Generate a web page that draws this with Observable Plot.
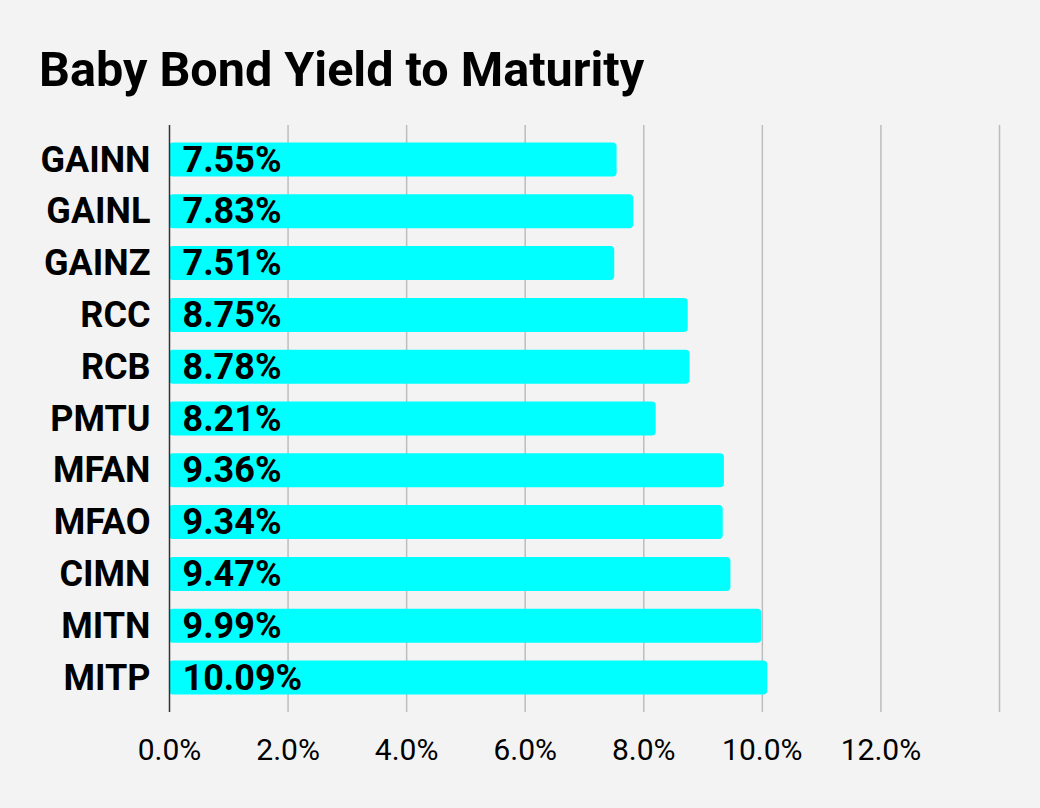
<!DOCTYPE html>
<html><head><meta charset="utf-8">
<script src="https://cdn.jsdelivr.net/npm/d3@7"></script>
<script src="https://cdn.jsdelivr.net/npm/@observablehq/plot@0.6"></script>
<style>
html,body{margin:0;padding:0;background:#f3f3f3;}
body{width:1040px;height:808px;overflow:hidden;font-family:Roboto,sans-serif;}
#title{height:110px;box-sizing:border-box;padding:42px 0 0 39px;font-size:48.5px;font-weight:700;line-height:56px;color:#000;white-space:nowrap;}
#chart svg{display:block;}
</style></head>
<body><div id="title">Baby Bond Yield to Maturity</div><div id="chart"></div>
<script>
const tickers = ["GAINN","GAINL","GAINZ","RCC","RCB","PMTU","MFAN","MFAO","CIMN","MITN","MITP"];
const yields = [7.55, 7.83, 7.51, 8.75, 8.78, 8.21, 9.36, 9.34, 9.47, 9.99, 10.09];
const xTicks = [0, 2, 4, 6, 8, 10, 12];
const gridTicks = [2, 4, 6, 8, 10, 12, 14];

const data = tickers.map((t, i) => ({ticker: t, value: yields[i]}));

const chart = Plot.plot({
  width: 1040, height: 698,
  marginTop: 15, marginBottom: 96, marginLeft: 169, marginRight: 41,
  style: {background: "transparent", fontFamily: "Roboto, sans-serif", color: "#000"},
  x: {domain: [0, 14]},
  y: {domain: tickers, paddingInner: 0.344, paddingOuter: 0.338, round: false},
  marks: [
    Plot.gridX(gridTicks, {stroke: "#bdbdbd", strokeOpacity: 1, strokeWidth: 1.5}),
    Plot.barX(data, {x: "value", y: "ticker", fill: "#00ffff", rx: 4}),
    Plot.ruleX([0], {stroke: "#333", strokeWidth: 1.5}),
    Plot.axisX(xTicks, {tickSize: 0, tickPadding: 26, fontSize: 30, tickFormat: d => d.toFixed(1) + "%", label: null}),
    Plot.axisY({tickSize: 0, tickPadding: 19, fontSize: 36, fontWeight: "bold", label: null}),
    Plot.text(data, {x: 0, y: "ticker", text: d => d.value.toFixed(2) + "%", textAnchor: "start", dx: 13, fontSize: 36, fontWeight: "bold", fill: "#000"})
  ]
});
document.getElementById("chart").appendChild(chart);
</script>
</body></html>
